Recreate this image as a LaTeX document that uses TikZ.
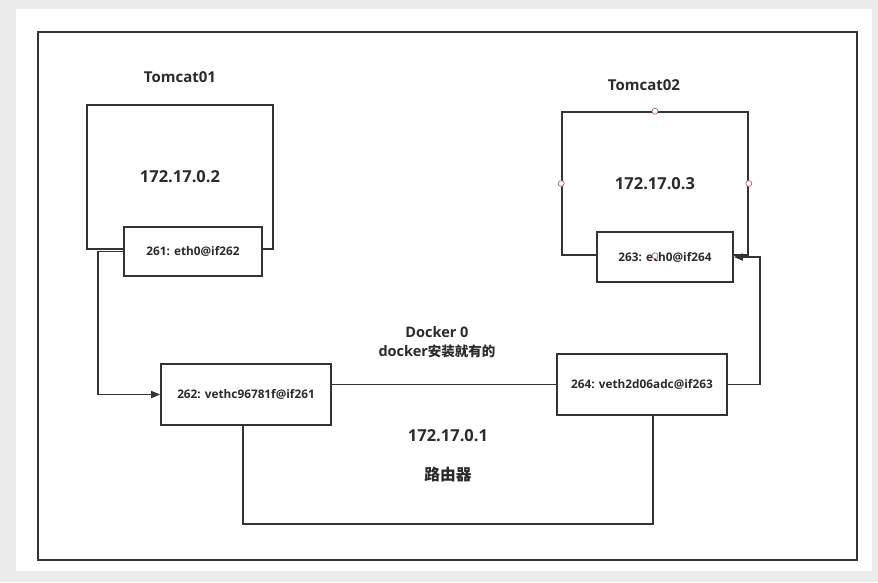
\documentclass[tikz,border=0pt]{standalone}
\usepackage{fontspec}
\setmainfont{Open Sans}
\newfontfamily\cjk{Noto Sans CJK SC}
\usetikzlibrary{arrows.meta}
\usetikzlibrary{positioning}
\definecolor{line}{HTML}{333333}
\definecolor{txt}{HTML}{2B2B2B}
\definecolor{handlered}{HTML}{B5657A}
\definecolor{sheetgray}{HTML}{ECECEC}
\tikzset{
  box/.style={draw=line, line width=1.6pt, fill=white, inner sep=0pt, text=txt},
  hostbox/.style={box, font=\bfseries\fontsize{16.5}{20}\selectfont},
  iface/.style={box, font=\bfseries\fontsize{11.8}{14}\selectfont},
  lbl/.style={font=\bfseries\fontsize{15}{18}\selectfont, text=txt, inner sep=0pt},
  wire/.style={draw=line, line width=1.6pt},
  handle/.style={circle, draw=handlered, fill=white, inner sep=0pt, minimum size=6pt, line width=0.7pt},
}

\begin{document}
\begin{tikzpicture}[x=1pt, y=-1pt]
      \useasboundingbox (0,0) rectangle (878,582);
      \fill [sheetgray] (0,0) rectangle (878,582);
      \fill [white] (16,9) rectangle (872,571);
      \draw [line, line width=1.6pt] (38,32) rectangle (857,560);

      % containers
      \node [hostbox, minimum width=186pt, minimum height=144pt] (tomcatA) at (180,177) {172.17.0.2};
      \node [hostbox, minimum width=186pt, minimum height=143pt] (tomcatB) at (655,183.5) {172.17.0.3};
      \node [lbl, above=21pt of tomcatA] (nameA) {Tomcat01};
      \node [lbl, above=20pt of tomcatB, xshift=-11pt] (nameB) {Tomcat02};

      % interfaces
      \node [iface, minimum width=138pt, minimum height=49pt] (ethA) at (193,251.5) {261: eth0@if262};
      \node [iface, minimum width=136pt, minimum height=50pt] (ethB) at (665,257) {263: eth0@if264};
      \node [iface, minimum width=170pt, minimum height=61pt] (vethA) at (246,394.5) {262: vethc96781f@if261};
      \node [iface, minimum width=170pt, minimum height=61pt] (vethB) at (642,384.5) {264: veth2d06adc@if263};

      \foreach \Side in {north, west, east, south}{
          \node [handle] (h\Side) at (tomcatB.\Side) {};
        }

      % docker0
      \node [lbl, font=\bfseries\fontsize{14.5}{19}\selectfont, align=center] (bridge) at (437,342) {Docker 0\\docker{\cjk\fontsize{13.5}{19}\selectfont 安装就有的}};
      \node [lbl, font=\bfseries\fontsize{16.5}{20}\selectfont] (gwip) at (448,436) {172.17.0.1};
      \node [lbl, font=\bfseries\cjk\fontsize{15.7}{18}\selectfont] (router) at (448,475) {路由器};
      \coordinate (loopR) at (653,524);

      \draw [wire, -{Triangle[length=9pt, width=7pt]}] (ethA.west) -- ++(-25,0) |- (vethA.west);
      \draw [wire] (vethA.east |- vethB.west) -- (vethB.west);
      \draw [wire] ([xshift=-3pt]vethA.south) |- (loopR) -- ([xshift=11pt]vethB.south);
      \draw [wire, -{Triangle[length=9pt, width=7pt]}] (vethB.east) -- ++(32,0) |- (ethB.east);
    \end{tikzpicture}
\end{document}
